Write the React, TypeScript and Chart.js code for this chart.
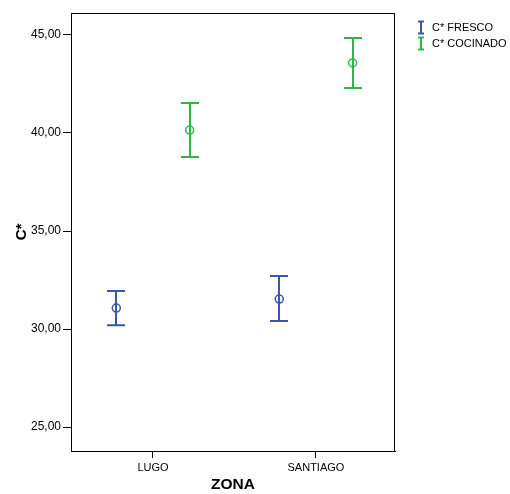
import React, { useEffect, useRef } from "react";
import { Chart, registerables } from "chart.js";
Chart.register(...registerables);

const categories = ["LUGO", "SANTIAGO"];
const seriesNames = ["C* FRESCO", "C* COCINADO"];
const frescoMean = [31.07, 31.53];
const frescoLow = [30.2, 30.41];
const frescoHigh = [31.94, 32.7];
const cocinadoMean = [40.15, 43.57];
const cocinadoLow = [38.78, 42.3];
const cocinadoHigh = [41.53, 44.85];
const yTicks = [25, 30, 35, 40, 45];

const BLUE = "#3a56a8";
const GREEN = "#2cb848";
const OFFSET = 0.225;
const FONT = "'Liberation Sans', Arial, sans-serif";

export default function App() {
  const ref = useRef<HTMLCanvasElement>(null);
  useEffect(() => {
    const canvas = ref.current!;
    const errPlugin = {
      id: "errbars",
      afterDatasetsDraw(chart: any) {
        const { ctx, scales } = chart;
        const xs = scales.x, ys = scales.y;
        const sets = [
          { lo: frescoLow, hi: frescoHigh, color: BLUE, off: -OFFSET },
          { lo: cocinadoLow, hi: cocinadoHigh, color: GREEN, off: OFFSET },
        ];
        ctx.save();
        sets.forEach((s) => {
          ctx.strokeStyle = s.color;
          ctx.lineWidth = 2;
          categories.forEach((_, i) => {
            const x = Math.round(xs.getPixelForValue(i + 1 + s.off));
            const y1 = ys.getPixelForValue(s.lo[i]);
            const y2 = ys.getPixelForValue(s.hi[i]);
            ctx.beginPath();
            ctx.moveTo(x, y1);
            ctx.lineTo(x, y2);
            ctx.moveTo(x - 9, y1);
            ctx.lineTo(x + 9, y1);
            ctx.moveTo(x - 9, y2);
            ctx.lineTo(x + 9, y2);
            ctx.stroke();
          });
        });
        // frame
        const a = chart.chartArea;
        ctx.strokeStyle = "#000";
        ctx.lineWidth = 1;
        ctx.strokeRect(a.left + 0.5, a.top + 0.5, a.right - a.left - 1, a.bottom - a.top);
        // legend
        const colors = [BLUE, GREEN];
        ctx.font = "11px " + FONT;
        ctx.textBaseline = "middle";
        seriesNames.forEach((n, i) => {
          const y = 27.5 + i * 16;
          const x = 421;
          ctx.strokeStyle = colors[i];
          ctx.lineWidth = 2;
          ctx.beginPath();
          ctx.moveTo(x, y - 6);
          ctx.lineTo(x, y + 6);
          ctx.moveTo(x - 3, y - 6);
          ctx.lineTo(x + 3, y - 6);
          ctx.moveTo(x - 3, y + 6);
          ctx.lineTo(x + 3, y + 6);
          ctx.stroke();
          ctx.fillStyle = "#000";
          ctx.fillText(n, 432, y);
        });
        ctx.restore();
      },
    };
    const chart = new Chart(canvas, {
      type: "scatter",
      data: {
        datasets: [
          {
            label: seriesNames[0],
            data: frescoMean.map((v, i) => ({ x: i + 1 - OFFSET, y: v })),
            borderColor: BLUE,
            backgroundColor: "rgba(0,0,0,0)",
            pointRadius: 4,
            borderWidth: 1.5,
          },
          {
            label: seriesNames[1],
            data: cocinadoMean.map((v, i) => ({ x: i + 1 + OFFSET, y: v })),
            borderColor: GREEN,
            backgroundColor: "rgba(0,0,0,0)",
            pointRadius: 4,
            borderWidth: 1.5,
          },
        ],
      },
      options: {
        responsive: false,
        animation: false,
        layout: { padding: { top: 13, right: 115, left: 0, bottom: 0 } },
        plugins: { legend: { display: false }, tooltip: { enabled: false } },
        scales: {
          x: {
            type: "linear",
            min: 0.497,
            max: 2.485,
            afterBuildTicks: (s: any) => {
              s.ticks = categories.map((_, i) => ({ value: i + 1 }));
            },
            afterFit: (s: any) => {
              s.height = 43;
            },
            ticks: {
              callback: (v: any) => categories[Number(v) - 1] ?? "",
              color: "#000",
              font: { family: FONT, size: 11 },
              padding: 3,
              maxRotation: 0,
            },
            grid: { drawOnChartArea: false, tickLength: 7, color: "#000", tickColor: "#000" },
            border: { color: "#000", width: 1 },
            title: {
              display: true,
              text: "ZONA",
              color: "#000",
              font: { family: FONT, size: 15.5, weight: "bold" },
              padding: { top: 0, bottom: 0 },
            },
          },
          y: {
            min: 23.78,
            max: 46.12,
            afterBuildTicks: (s: any) => {
              s.ticks = yTicks.map((v) => ({ value: v }));
            },
            afterFit: (s: any) => {
              s.width = 71;
            },
            ticks: {
              callback: (v: any) => Number(v).toFixed(2).replace(".", ","),
              color: "#000",
              font: { family: FONT, size: 12 },
              padding: 2,
            },
            grid: { drawOnChartArea: false, tickLength: 8, color: "#000", tickColor: "#000" },
            border: { color: "#000", width: 1 },
            title: {
              display: true,
              text: "C*",
              color: "#000",
              font: { family: FONT, size: 15.5, weight: "bold" },
              padding: { top: 12, bottom: 0 },
            },
          },
        },
      },
      plugins: [errPlugin],
    });
    return () => chart.destroy();
  }, []);
  return (
    <div style={{ position: "absolute", left: 0, top: 0, width: 510, height: 494, background: "#fff" }}>
      <canvas ref={ref} width={510} height={494} />
    </div>
  );
}
